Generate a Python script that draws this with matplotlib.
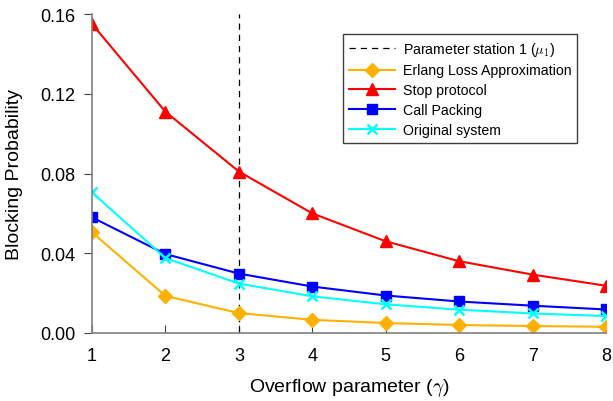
import numpy as np
import matplotlib.pyplot as plt

plt.rcParams['font.family'] = ['Liberation Sans', 'DejaVu Sans']
plt.rcParams['mathtext.fontset'] = 'cm'

gamma = [1, 2, 3, 4, 5, 6, 7, 8]
erlang = [0.0505, 0.0186, 0.0100, 0.0066, 0.0050, 0.0040, 0.0035, 0.0031]
stop = [0.155, 0.111, 0.081, 0.060, 0.046, 0.036, 0.0293, 0.0237]
packing = [0.058, 0.0396, 0.0298, 0.0233, 0.0188, 0.0158, 0.0137, 0.0118]
original = [0.0705, 0.0376, 0.0248, 0.0184, 0.0144, 0.0117, 0.0098, 0.0085]
mu1 = 3

yticks = [0.00, 0.04, 0.08, 0.12, 0.16]

fig = plt.figure(figsize=(6.13, 4.02), dpi=100)
ax = fig.add_axes([92 / 613, 1 - 334 / 402, (606 - 92) / 613, (334 - 15) / 402])

ax.axvline(mu1, color='black', linestyle=(0, (5, 4)), linewidth=0.9,
           label=r'Parameter station 1 ($\mu_1$)')
ax.plot(gamma, erlang, color='#FFB000', marker='D', markersize=7, linewidth=1.5,
        label='Erlang Loss Approximation')
ax.plot(gamma, stop, color='#FF0000', marker='^', markersize=9, linewidth=1.5,
        label='Stop protocol')
ax.plot(gamma, packing, color='#0000FF', marker='s', markersize=7, linewidth=1.5,
        label='Call Packing')
ax.plot(gamma, original, color='#00FFFF', marker='x', markersize=7, linewidth=1.5,
        markeredgewidth=1.8, label='Original system')

ax.set_xlim(1, 8)
ax.set_ylim(0, 0.16)
ax.set_xticks(gamma)
ax.set_yticks(yticks)
ax.set_yticklabels([f'{v:.2f}' for v in yticks])
ax.spines['top'].set_visible(False)
ax.spines['right'].set_visible(False)
for s in ['left', 'bottom']:
    ax.spines[s].set_color('#808080')
    ax.spines[s].set_linewidth(1.2)
ax.tick_params(axis='y', direction='out', length=6, color='#404040', labelsize=13, pad=6)
ax.tick_params(axis='x', direction='in', length=6, color='#404040', labelsize=13, pad=10)

ax.set_xlabel(r'Overflow parameter ($\gamma$)', fontsize=14, labelpad=9)
ax.set_ylabel('Blocking Probability', fontsize=14, labelpad=12)

leg = ax.legend(loc='upper right', bbox_to_anchor=(0.957, 0.96), fontsize=10.2,
                fancybox=False, edgecolor='#404040', framealpha=1,
                handlelength=3.3, handletextpad=0.5, borderpad=0.4,
                labelspacing=0.42)
leg.get_frame().set_linewidth(1.0)

plt.savefig('out.png')
